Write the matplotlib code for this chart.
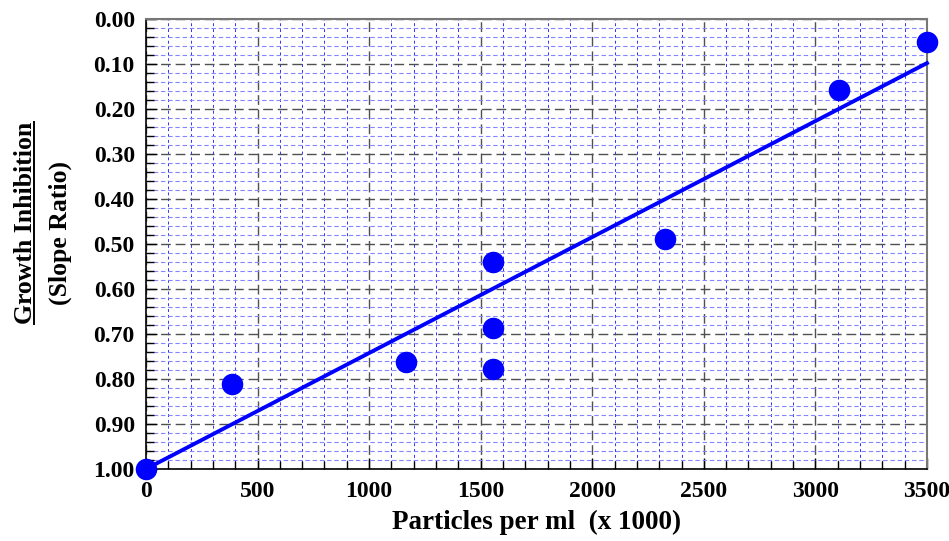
"""Growth inhibition vs particle concentration, scatter with fitted line."""
import matplotlib
matplotlib.use("Agg")
import matplotlib.pyplot as plt
from matplotlib.ticker import MultipleLocator, FormatStrFormatter

# data
particles = [0, 385, 1165, 1555, 1555, 1555, 2326, 3106, 3500]
inhibition = [1.00, 0.811, 0.762, 0.540, 0.687, 0.778, 0.489, 0.158, 0.051]
fit_x = [0, 3500]
fit_y = [1.00, 0.098]
x_ticks = [0, 500, 1000, 1500, 2000, 2500, 3000, 3500]

plt.rcParams["font.family"] = ["Liberation Serif", "DejaVu Serif"]
plt.rcParams["font.weight"] = "bold"

fig = plt.figure(figsize=(9.49, 5.41), dpi=100)
ax = fig.add_axes([0.1538, 0.1331, 0.8230, 0.8318])

ax.set_xlim(0, 3500)
ax.set_ylim(1.0, 0.0)
ax.xaxis.set_major_locator(MultipleLocator(500))
ax.xaxis.set_minor_locator(MultipleLocator(100))
ax.yaxis.set_major_locator(MultipleLocator(0.1))
ax.yaxis.set_minor_locator(MultipleLocator(0.02))
ax.yaxis.set_major_formatter(FormatStrFormatter("%.2f"))
ax.set_xticks(x_ticks)

# minor grid: vertical lines darker blue, horizontal ones lighter
ax.xaxis.grid(True, which="minor", color="#3030ff", linestyle=(0, (3, 3)), linewidth=0.7)
ax.yaxis.grid(True, which="minor", color="#8585ff", linestyle=(0, (4, 2.5)), linewidth=0.8)
ax.grid(which="major", color="#505050", linestyle=(0, (7, 3.5)), linewidth=1.0)
ax.set_axisbelow(True)

ax.tick_params(which="both", direction="in", top=False, right=False,
               labelsize=17, width=1.0)
ax.tick_params(axis="y", pad=8)
ax.tick_params(axis="x", pad=9)
ax.tick_params(which="major", length=8)
ax.tick_params(which="minor", length=6)
for lab in ax.get_xticklabels() + ax.get_yticklabels():
    lab.set_fontweight("bold")

for side in ("top", "right"):
    ax.spines[side].set_color("#777777")
    ax.spines[side].set_linewidth(1.5)
for side in ("left", "bottom"):
    ax.spines[side].set_linewidth(1.2)

ax.plot(fit_x, fit_y, color="#0000ff", linewidth=2.8, clip_on=False, zorder=3)
ax.plot(particles, inhibition, "o", color="#0000ff", markersize=14.5,
        clip_on=False, zorder=4)

ax.set_xlabel("Particles per ml  (x 1000)", fontsize=19.5, fontweight="bold",
              labelpad=5)

# two-line y label, first line underlined; anchored on the baseline
W, H = 949, 541
t1 = fig.text(32 / W, 1 - 223 / H, "Growth Inhibition", rotation=90,
              rotation_mode="anchor", fontsize=18.5, fontweight="bold",
              ha="center", va="baseline")
fig.text(67 / W, 1 - 233 / H, "(Slope Ratio)", rotation=90,
         rotation_mode="anchor", fontsize=18.5, fontweight="bold",
         ha="center", va="baseline")

fig.canvas.draw()
bb = t1.get_window_extent().transformed(fig.transFigure.inverted())
ux = 34 / W
fig.add_artist(plt.Line2D([ux, ux], [bb.y0, bb.y1], transform=fig.transFigure,
                          color="black", linewidth=1.4))

fig.savefig("out.png", dpi=100)
